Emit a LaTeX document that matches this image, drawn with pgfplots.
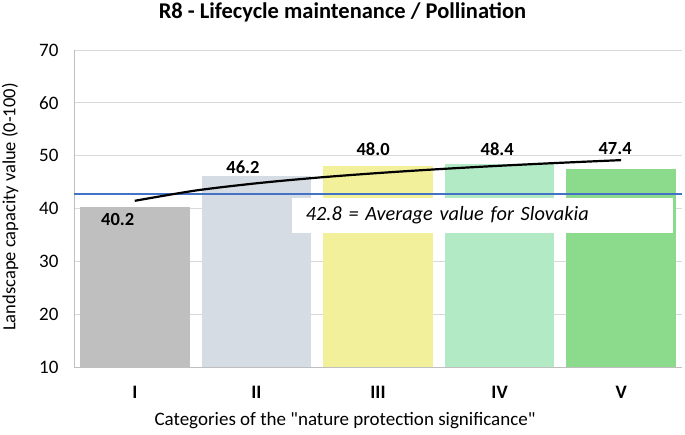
\documentclass[border=0pt]{standalone}
\usepackage{fontspec}
\setmainfont{Carlito}[Ligatures=TeXOff]
\usepackage{pgfplots}
\pgfplotsset{compat=1.18}
\definecolor{cI}{RGB}{191,191,191}
\definecolor{cII}{RGB}{214,220,228}
\definecolor{cIII}{RGB}{243,240,155}
\definecolor{cIV}{RGB}{178,234,198}
\definecolor{cV}{RGB}{140,218,140}
\definecolor{gridgray}{RGB}{217,217,217}
\definecolor{axgray}{RGB}{191,191,191}
\definecolor{avgblue}{RGB}{68,114,196}
\begin{document}
\begin{tikzpicture}[x=1pt,y=1pt]
\path[use as bounding box] (-74,-67) rectangle (611,367);
\begin{axis}[at={(0,0)}, anchor=south west, scale only axis,
  width=608pt, height=317pt,
  xmin=-0.5, xmax=4.5, ymin=10, ymax=70,
  ytick={10,20,...,70}, xtick={0,1,2,3,4}, xticklabels={I,II,III,IV,V},
  ymajorgrids, grid style={color=gridgray, line width=0.9pt},
  axis x line*=bottom, axis y line*=left,
  axis line style={color=axgray, line width=0.9pt, -},
  major tick length=0pt, tick style={draw=none},
  /pgf/number format/assume math mode=true,
  yticklabel style={font=\fontsize{19}{22}\selectfont, anchor=east, xshift=-12pt},
  xticklabel style={font=\fontsize{19}{22}\selectfont\bfseries, anchor=center, yshift=-25pt},
]
\addplot[ybar, bar width=0.9, bar shift=0pt, fill=cI, draw=none] coordinates {(0,40.2)};
\addplot[ybar, bar width=0.9, bar shift=0pt, fill=cII, draw=none] coordinates {(1,46.2)};
\addplot[ybar, bar width=0.9, bar shift=0pt, fill=cIII, draw=none] coordinates {(2,48.0)};
\addplot[ybar, bar width=0.9, bar shift=0pt, fill=cIV, draw=none] coordinates {(3,48.4)};
\addplot[ybar, bar width=0.9, bar shift=0pt, fill=cV, draw=none] coordinates {(4,47.4)};
\addplot[sharp plot, avgblue, line width=2pt] coordinates {(-0.5,42.8) (4.5,42.8)};
\addplot[smooth, black, line width=2.2pt] coordinates {(0,41.46) (0.5,43.40) (1,44.77) (1.5,45.84) (2,46.71) (2.5,47.45) (3,48.09) (3.5,48.65) (4,49.16)};
\node[fill=white, anchor=north west, inner xsep=14pt, inner ysep=0pt, text width=353pt, minimum height=35pt, align=left, font=\fontsize{20.3}{24}\selectfont\itshape] at (axis cs:1.29,42.0) {42.8 = Average value for Slovakia};
\begin{scope}[every node/.style={font=\fontsize{18.5}{22}\selectfont\bfseries}]
\node at (axis cs:-0.14,38.0) {40.2};
\node at (axis cs:0.89,47.9) {46.2};
\node at (axis cs:1.96,51.3) {48.0};
\node at (axis cs:2.98,51.3) {48.4};
\node at (axis cs:3.95,51.3) {47.4};
\end{scope}
\end{axis}
\node[font=\fontsize{22.5}{26}\selectfont\bfseries] at (268.5,354.5) {R8 - Lifecycle maintenance / Pollination};
\node[font=\fontsize{19}{22}\selectfont] at (271,-54) {Categories of the "nature protection significance"};
\node[font=\fontsize{18.5}{22}\selectfont, rotate=90] at (-64,160) {Landscape capacity value (0-100)};
\end{tikzpicture}
\end{document}
